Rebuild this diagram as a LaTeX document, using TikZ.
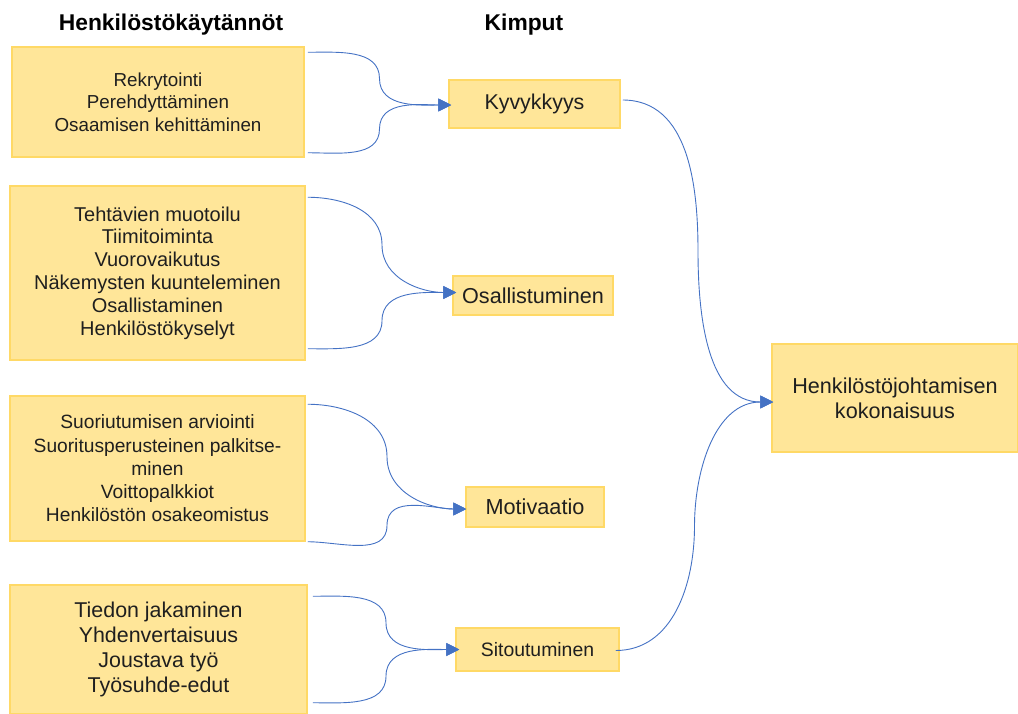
\documentclass[tikz,border=0pt]{standalone}
\usepackage{fontspec}
\setmainfont{Liberation Sans}
\usetikzlibrary{calc,arrows.meta}
\definecolor{boxfill}{HTML}{FFE699}
\definecolor{boxline}{HTML}{FFD966}
\definecolor{connblue}{HTML}{4472C4}
\newcommand{\fsz}[2]{\fontsize{#1}{#2}\selectfont}

\begin{document}
\begin{tikzpicture}[x=1pt,y=1pt,
  box/.style={draw=boxline,fill=boxfill,line width=1.5pt,inner sep=0pt,align=center,text=black!88},
  head/.style={font=\fsz{22.8}{26}\bfseries,anchor=base,text=black},
  conn/.style={draw=connblue,line width=0.9pt,-{Triangle[length=13pt,width=13pt]}}]
\useasboundingbox (0,0) rectangle (1018,-713);

\node[head] (hkay) at (171,-30) {Henkilöstökäytännöt};
\node[head] (hkim) at (524,-30) {Kimput};

\node[box,minimum width=292pt,minimum height=110pt,font=\fsz{18.8}{22.5}] (prak1) at (158,-102)
  {Rekrytointi\\Perehdyttäminen\\Osaamisen kehittäminen};
\node[box,minimum width=295pt,minimum height=174pt,font=\fsz{20}{22.8}] (prak2) at (157.5,-273)
  {Tehtävien muotoilu\\Tiimitoiminta\\Vuorovaikutus\\Näkemysten kuunteleminen\\Osallistaminen\\Henkilöstökyselyt};
\node[box,minimum width=295pt,minimum height=145pt,font=\fsz{19.2}{23.2}] (prak3) at (157.5,-468.5)
  {Suoriutumisen arviointi\\Suoritusperusteinen palkitse-\\minen\\Voittopalkkiot\\Henkilöstön osakeomistus};
\node[box,minimum width=297pt,minimum height=129pt,font=\fsz{21.4}{25}] (prak4) at (158.5,-649.5)
  {Tiedon jakaminen\\Yhdenvertaisuus\\Joustava työ\\Työsuhde-edut};

\node[box,minimum width=171pt,minimum height=48pt,font=\fsz{21.4}{25}] (kyv) at (534.5,-104) {Kyvykkyys};
\node[box,minimum width=160pt,minimum height=39pt,font=\fsz{21.6}{25}] (osa) at (533,-295.5) {Osallistuminen};
\node[box,minimum width=138pt,minimum height=40pt,font=\fsz{21.7}{25}] (mot) at (535,-507) {Motivaatio};
\node[box,minimum width=163pt,minimum height=43pt,font=\fsz{19.4}{23}] (sit) at (537.5,-649.5) {Sitoutuminen};
\node[box,minimum width=246pt,minimum height=108pt,font=\fsz{21.6}{25}] (kok) at (895,-398)
  {Henkilöstöjohtamisen\\kokonaisuus};

\coordinate (p1t) at ($(prak1.north east)+(3,-6)$);
\coordinate (p1b) at ($(prak1.south east)+(3,5)$);
\coordinate (p2t) at ($(prak2.north east)+(2,-12)$);
\coordinate (p2b) at ($(prak2.south east)+(2,12)$);
\coordinate (p3t) at ($(prak3.north east)+(2,-9)$);
\coordinate (p3b) at ($(prak3.south east)+(2,0)$);
\coordinate (p4t) at ($(prak4.north east)+(5,-12)$);
\coordinate (p4b) at ($(prak4.south east)+(5,12)$);
\coordinate (kyvin) at ($(kyv.west)+(3,-1)$);
\coordinate (osain) at ($(osa.west)+(4,3)$);
\coordinate (motin) at ($(mot.west)+(1,-2)$);
\coordinate (sitin) at ($(sit.west)+(4,0)$);
\coordinate (kyvout) at ($(kyv.east)+(2,4)$);
\coordinate (sitout) at ($(sit.east)+(-4,-1)$);
\coordinate (kokin) at ($(kok.west)+(2,-4)$);

\foreach \a/\b in {p1t/kyvin,p2t/osain,p3t/motin,p4t/sitin,kyvout/kokin}
  \draw[conn] (\a) to[out=0,in=90] ($(\a)!.5!(\b)$) to[out=-90,in=180] (\b);
\foreach \a/\b in {p1b/kyvin,p2b/osain,p3b/motin,p4b/sitin,sitout/kokin}
  \draw[conn] (\a) to[out=0,in=-90] ($(\a)!.5!(\b)$) to[out=90,in=180] (\b);

\end{tikzpicture}
\end{document}
